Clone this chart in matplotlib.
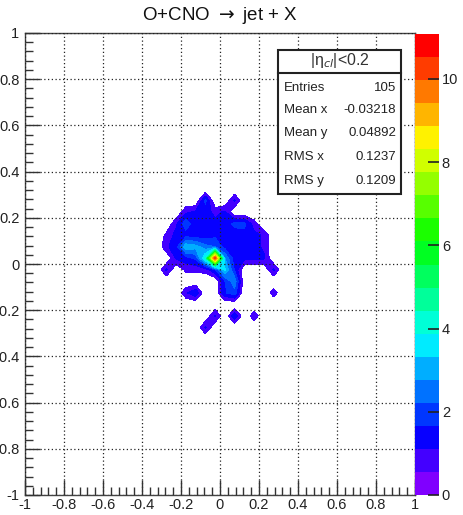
import numpy as np
import matplotlib
matplotlib.use('Agg')
import matplotlib.pyplot as plt
from matplotlib.colors import ListedColormap, BoundaryNorm, hsv_to_rgb
from matplotlib.patches import Rectangle
from matplotlib.lines import Line2D
import matplotlib.colorbar as mcolorbar

plt.rcParams['font.family'] = ['Liberation Sans', 'DejaVu Sans']

# bin centres of the populated part of the histogram (40 bins on [-1, 1])
x_centres = [-0.325, -0.275, -0.225, -0.175, -0.125, -0.075, -0.025,
             0.025, 0.075, 0.125, 0.175, 0.225, 0.275, 0.325]
y_centres = [0.325, 0.275, 0.225, 0.175, 0.125, 0.075, 0.025,
             -0.025, -0.075, -0.125, -0.175, -0.225, -0.275, -0.325]

# bin contents, rows follow y_centres (top to bottom)
counts = [
    [0, 0,   0,   0,   0,   0,   0,   0,   0,   0,   0,    0,   0,    0],
    [0, 0,   0,   0,   0,   1.8, 0,   0,   1.2, 0,   0,    0,   0,    0],
    [0, 0,   0,   1.0, 1.2, 1.4, 0.9, 1.2, 0,   0,   0,    0,   0,    0],
    [0, 0,   1.0, 2.0, 1.3, 1.4, 1.3, 1.4, 1.8, 1.8, 0.8,  0,   0,    0],
    [0, 0.7, 1.3, 1.4, 1.3, 1.3, 1.5, 1.4, 1.4, 1.5, 1.3,  1.0, 0,    0],
    [0, 1.0, 1.4, 3.2, 3.0, 2.4, 2.2, 1.4, 1.4, 1.4, 1.3,  1.0, 0,    0],
    [0, 0,   1.2, 1.4, 1.8, 4.0, 10.5, 2.8, 1.3, 1.3, 1.2, 1.2, 0,    0],
    [0, 1.2, 0,   0.7, 0.7, 0.8, 1.6, 3.4, 1.6, 0,   0,    0,   1.2,  0],
    [0, 0,   0,   0,   0,   0,   0,   1.6, 2.6, 0,   0,    0,   0,    0],
    [0, 0,   0,   1.0, 1.6, 0,   0,   1.6, 2.0, 0,   0,    0,   0.85, 0],
    [0, 0,   0,   0,   0,   0,   0,   0,   0,   0,   0,    0,   0,    0],
    [0, 0,   0,   0,   0,   0,   1.2, 0,   1.55, 0,  0.92, 0,   0,    0],
    [0, 0,   0,   0,   0,   1.2, 0,   0,   0,   0,   0,    0,   0,    0],
    [0, 0,   0,   0,   0,   0,   0,   0,   0,   0,   0,    0,   0,    0],
]

z_max = 11.08
n_levels = 20
cbar_ticks = [0, 2, 4, 6, 8, 10]

stats_title = '|η$_{cl}$|<0.2'
stats_names = ['Entries', 'Mean x', 'Mean y', 'RMS x', 'RMS y']
stats_values = ['105', '-0.03218', '0.04892', '0.1237', '0.1209']

W, H = 463, 515
fig = plt.figure(figsize=(W / 100, H / 100), dpi=100)


def fx(px):
    return px / W


def fy(py):
    return 1 - py / H


def root_label(v):
    v = round(float(v), 2) + 0.0
    return f'{v:g}'


# palette: violet -> red, 20 bands
hues = np.linspace(270, 0, n_levels) / 360.0
palette = hsv_to_rgb(np.stack([hues, np.ones(n_levels), np.ones(n_levels)], axis=1))
levels = np.linspace(0, z_max, n_levels + 1)

ax = fig.add_axes([fx(25), fy(495), fx(415) - fx(25), fy(33) - fy(495)])
X, Y = np.meshgrid(x_centres, y_centres)
Z = np.array(counts)
ax.contourf(X, Y, Z, levels=levels[1:], colors=palette[1:], zorder=1)

ax.set_xlim(-1, 1)
ax.set_ylim(-1, 1)
major = np.round(np.arange(-1, 1.001, 0.2), 2)
ax.set_xticks(major)
ax.set_yticks(major)
ax.set_xticklabels([root_label(v) for v in major])
ax.set_yticklabels([root_label(v) for v in major])
minor = np.round(np.arange(-1, 1.001, 0.04), 2)
ax.set_xticks(minor, minor=True)
ax.set_yticks(minor, minor=True)
ax.tick_params(which='both', direction='in', top=False, right=False,
               labelsize=10.5, color='#333333', labelcolor='#222222', pad=2)
ax.tick_params(axis='y', pad=4)
ax.tick_params(which='major', length=11, width=1)
ax.tick_params(which='minor', length=6, width=1)
ax.grid(True, which='major', linestyle=(0, (1, 2)), color='#222222', lw=0.9, zorder=3)
ax.set_axisbelow(False)
for s in ax.spines.values():
    s.set_color('#444444')
    s.set_linewidth(1)

# title
fig.text(fx(220), fy(16), 'O+CNO $\\rightarrow$ jet + X', ha='center', va='center',
         fontsize=13.5, color='#111111')

# palette axis
cax = fig.add_axes([fx(415), fy(495), fx(439) - fx(415), fy(34) - fy(495)])
cmap = ListedColormap(palette)
norm = BoundaryNorm(levels, cmap.N)
cb = mcolorbar.ColorbarBase(cax, cmap=cmap, norm=norm, boundaries=levels,
                            ticks=cbar_ticks, orientation='vertical')
cb.outline.set_visible(False)
cb.set_ticklabels([str(t) for t in cbar_ticks])
cax.tick_params(direction='in', length=8, width=1.2, color='#222222',
                labelsize=10.5, labelcolor='#222222', pad=2)
cax.minorticks_off()

# stats box
bx0, by0, bx1, by1 = 278, 50, 401, 194
fig.patches.append(Rectangle((fx(bx0), fy(by1)), fx(bx1) - fx(bx0), fy(by0) - fy(by1),
                             transform=fig.transFigure, facecolor='white',
                             edgecolor='#222222', lw=1.5, zorder=5))
fig.lines.append(Line2D([fx(bx0), fx(bx1)], [fy(73), fy(73)], transform=fig.transFigure,
                        color='#222222', lw=1.5, zorder=6))
fig.text(fx((bx0 + bx1) / 2), fy(61), stats_title, ha='center', va='center',
         fontsize=11.5, color='#333333', zorder=7)
row_y = [88, 110, 133, 157, 181]
for name, val, ry in zip(stats_names, stats_values, row_y):
    fig.text(fx(284), fy(ry), name, ha='left', va='center', fontsize=9.5,
             color='#222222', zorder=7)
    fig.text(fx(396), fy(ry), val, ha='right', va='center', fontsize=9.5,
             color='#222222', zorder=7)

fig.savefig('out.png', dpi=100)
